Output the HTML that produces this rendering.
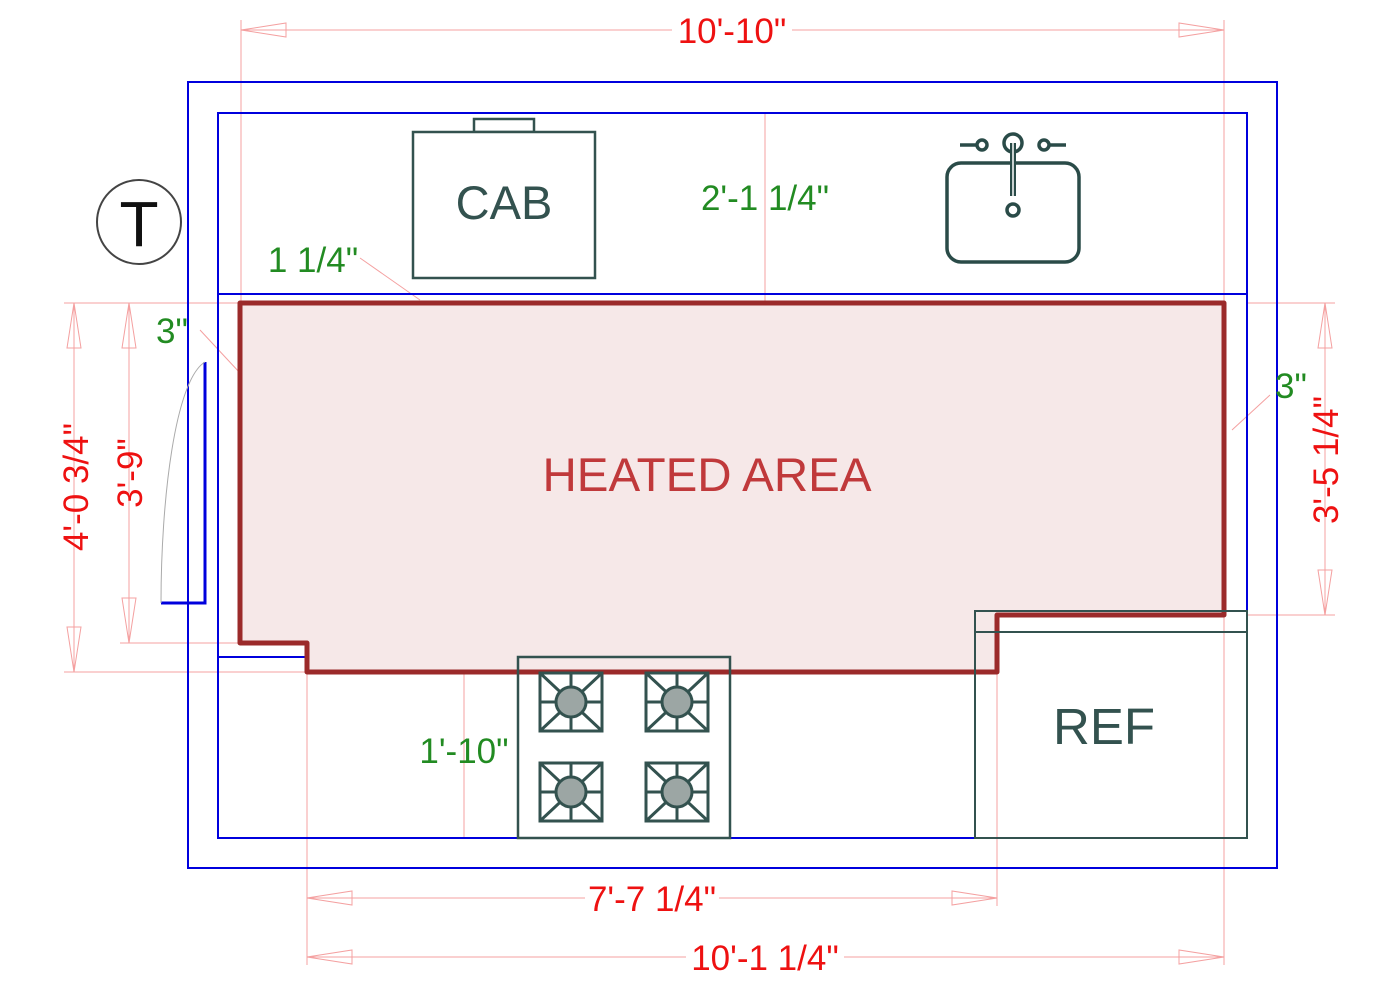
<!DOCTYPE html>
<html><head><meta charset="utf-8"><style>html,body{margin:0;padding:0;background:#fff}svg{display:block}</style></head><body>
<svg width="1400" height="988" viewBox="0 0 1400 988" xmlns="http://www.w3.org/2000/svg" font-family="Liberation Sans, sans-serif">
<defs>
<g id="burner">
<rect x="-31" y="-29" width="62" height="58" fill="#fff" stroke="#33524f" stroke-width="3"/>
<path d="M-31,-29L31,29M31,-29L-31,29M0,-29V29M-31,0H31" stroke="#33524f" stroke-width="3"/>
<circle r="15" fill="#9ca6a4" stroke="#33524f" stroke-width="3"/>
</g>
</defs>
<g stroke="#f4a0a0" stroke-width="1" fill="none">
<path d="M241,20V303M1224,20V303M307,672V965M997,672V906M1224,615V965"/>
<path d="M64,303H240M64,672H307M120,643H240M1247,303H1335M1247,615H1335"/>
<path d="M241,30H1224M307,898H997M307,957H1224M74,303V672M129,303V643M1325,303V615"/>
<path d="M765,113V303M464,672V838"/>
<path d="M241,30l45,-7v14zM1224,30l-45,-7v14zM307,898l45,-7v14zM997,898l-45,-7v14zM307,957l45,-7v14zM1224,957l-45,-7v14z"/>
<path d="M74,303l-7,45h14zM74,672l-7,-45h14zM129,303l-7,45h14zM129,643l-7,-45h14zM1325,303l-7,45h14zM1325,615l-7,-45h14z"/>
<path d="M360,258L420,300M200,330L240,373M1270,395L1232,430"/>
</g>
<rect x="188" y="82" width="1089" height="786" fill="none" stroke="#0000dd" stroke-width="2"/>
<rect x="218" y="113" width="1029" height="725" fill="none" stroke="#0000dd" stroke-width="2"/>
<path d="M218,294H1247M218,657H975" stroke="#0000dd" stroke-width="2"/>
<path d="M240,303H1224V615H997V672H307V643H240Z" fill="#f6e8e8" stroke="#9b2a2a" stroke-width="5" stroke-linejoin="round"/>
<text x="707" y="491" font-size="47.5" fill="#c0393b" text-anchor="middle">HEATED AREA</text>
<path d="M205,362V603H161" stroke="#0000dd" stroke-width="3" fill="none"/>
<path d="M161,603C161,500 175,380 205,362" stroke="#aaa" stroke-width="1" fill="none"/>
<circle cx="139" cy="222" r="42" fill="#fff" stroke="#444" stroke-width="2"/>
<text x="139" y="246" font-size="64" fill="#111" text-anchor="middle">T</text>
<rect x="474" y="119" width="60" height="13" fill="#fff" stroke="#33524f" stroke-width="2.5"/>
<rect x="413" y="132" width="182" height="146" fill="#fff" stroke="#33524f" stroke-width="2.5"/>
<text x="504" y="219" font-size="47" fill="#33524f" text-anchor="middle">CAB</text>
<g stroke="#2a4b48" stroke-width="3.5" fill="none">
<rect x="947" y="163" width="132" height="99" rx="14" fill="#fff"/>
<path d="M960,145H977M1049,145H1066"/>
<circle cx="982" cy="145" r="5"/><circle cx="1044" cy="145" r="5"/>
<circle cx="1013" cy="143" r="9"/>
<path d="M1013,143V196" stroke-width="6"/>
<path d="M1013,143V196" stroke="#fff" stroke-width="1.5"/>
<circle cx="1013" cy="210" r="6"/>
</g>
<rect x="518" y="657" width="212" height="181" fill="none" stroke="#33524f" stroke-width="2.5"/>
<use href="#burner" x="571" y="702"/><use href="#burner" x="677" y="702"/>
<use href="#burner" x="571" y="792"/><use href="#burner" x="677" y="792"/>
<rect x="975" y="611" width="272" height="227" fill="none" stroke="#33524f" stroke-width="2"/>
<path d="M975,632H1247" stroke="#33524f" stroke-width="2"/>
<text x="1104" y="744" font-size="51" fill="#33524f" text-anchor="middle">REF</text>
<g fill="#ee1111" font-size="35" text-anchor="middle">
<rect x="672" y="12" width="120" height="36" fill="#fff"/>
<text x="732" y="43">10'-10"</text>
<rect x="585" y="882" width="134" height="34" fill="#fff"/>
<text x="652" y="911">7'-7 1/4"</text>
<rect x="686" y="940" width="158" height="34" fill="#fff"/>
<text x="765" y="970">10'-1 1/4"</text>
<text transform="translate(88,487) rotate(-90)">4'-0 3/4"</text>
<text transform="translate(142,473) rotate(-90)">3'-9"</text>
<text transform="translate(1338,460) rotate(-90)">3'-5 1/4"</text>
</g>
<g fill="#228b22" font-size="35" text-anchor="middle">
<text x="765" y="210">2'-1 1/4"</text>
<text x="313" y="272">1 1/4"</text>
<text x="172" y="343">3"</text>
<text x="1291" y="398">3"</text>
<text x="464" y="763">1'-10"</text>
</g>
</svg>
</body></html>
